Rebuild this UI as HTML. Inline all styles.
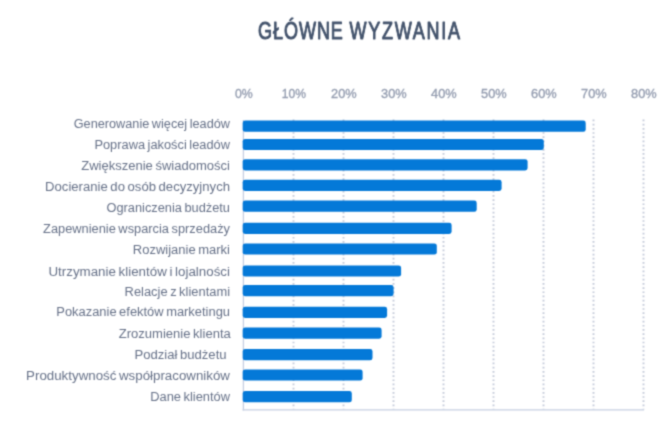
<!DOCTYPE html>
<html lang="pl">
<head>
<meta charset="utf-8">
<title>Główne wyzwania</title>
<style>
html,body{margin:0;padding:0;background:#ffffff;}
body{width:670px;height:427px;overflow:hidden;font-family:"Liberation Sans",sans-serif;}
svg{display:block;filter:url(#soft);}
text{font-family:"Liberation Sans",sans-serif;}
.title{font-size:23.4px;fill:#42526b;stroke:#42526b;stroke-width:0.95px;stroke-linejoin:round;}
.ax{font-size:13.3px;fill:#949db0;stroke:#949db0;stroke-width:0.35px;}
.lab{font-size:12.3px;fill:#667188;word-spacing:-1.0px;}
</style>
</head>
<body>
<svg width="670" height="427" viewBox="0 0 670 427">
<defs><filter id="soft" x="0" y="0" width="670" height="427" filterUnits="userSpaceOnUse" color-interpolation-filters="sRGB"><feConvolveMatrix order="3" kernelMatrix="0.0900 0.3000 0.0900 0.3000 1.0000 0.3000 0.0900 0.3000 0.0900" divisor="2.5600" edgeMode="duplicate" preserveAlpha="true"/></filter></defs>
<rect x="0" y="0" width="670" height="427" fill="#ffffff"/>
<text class="title" transform="translate(258.1,38.9) scale(0.770,1)" x="0" y="0" textLength="110.1" lengthAdjust="spacing">GŁÓWNE</text>
<text class="title" transform="translate(349.5,38.9) scale(0.770,1)" x="0" y="0" textLength="143.6" lengthAdjust="spacing">WYZWANIA</text>
<text class="ax" x="235.0" y="98.1" textLength="17.8" lengthAdjust="spacingAndGlyphs">0%</text>
<text class="ax" x="281.8" y="98.1" textLength="24.2" lengthAdjust="spacingAndGlyphs">10%</text>
<text class="ax" x="331.1" y="98.1" textLength="25.6" lengthAdjust="spacingAndGlyphs">20%</text>
<text class="ax" x="381.1" y="98.1" textLength="25.6" lengthAdjust="spacingAndGlyphs">30%</text>
<text class="ax" x="431.1" y="98.1" textLength="25.6" lengthAdjust="spacingAndGlyphs">40%</text>
<text class="ax" x="481.1" y="98.1" textLength="25.6" lengthAdjust="spacingAndGlyphs">50%</text>
<text class="ax" x="531.1" y="98.1" textLength="25.6" lengthAdjust="spacingAndGlyphs">60%</text>
<text class="ax" x="581.1" y="98.1" textLength="25.6" lengthAdjust="spacingAndGlyphs">70%</text>
<text class="ax" x="631.1" y="98.1" textLength="25.6" lengthAdjust="spacingAndGlyphs">80%</text>
<line x1="293.5" y1="119.6" x2="293.5" y2="409.5" stroke="#c4cad9" stroke-width="1.9" stroke-dasharray="1.7 2.49"/>
<line x1="343.5" y1="119.6" x2="343.5" y2="409.5" stroke="#c4cad9" stroke-width="1.9" stroke-dasharray="1.7 2.49"/>
<line x1="393.5" y1="119.6" x2="393.5" y2="409.5" stroke="#c4cad9" stroke-width="1.9" stroke-dasharray="1.7 2.49"/>
<line x1="443.5" y1="119.6" x2="443.5" y2="409.5" stroke="#c4cad9" stroke-width="1.9" stroke-dasharray="1.7 2.49"/>
<line x1="493.5" y1="119.6" x2="493.5" y2="409.5" stroke="#c4cad9" stroke-width="1.9" stroke-dasharray="1.7 2.49"/>
<line x1="543.5" y1="119.6" x2="543.5" y2="409.5" stroke="#c4cad9" stroke-width="1.9" stroke-dasharray="1.7 2.49"/>
<line x1="593.5" y1="119.6" x2="593.5" y2="409.5" stroke="#c4cad9" stroke-width="1.9" stroke-dasharray="1.7 2.49"/>
<line x1="643.5" y1="119.6" x2="643.5" y2="409.5" stroke="#c4cad9" stroke-width="1.9" stroke-dasharray="1.7 2.49"/>
<line x1="243.4" y1="120" x2="243.4" y2="410.5" stroke="#c6cfe2" stroke-width="1.3"/>
<line x1="242.6" y1="409.9" x2="644" y2="409.9" stroke="#c6cfe2" stroke-width="1.3"/>
<rect x="242.7" y="120.6" width="343.0" height="11.2" rx="2.4" ry="2.4" fill="#0479d8"/>
<rect x="242.7" y="138.9" width="301.1" height="11.2" rx="2.4" ry="2.4" fill="#0479d8"/>
<rect x="242.7" y="159.2" width="284.9" height="11.2" rx="2.4" ry="2.4" fill="#0479d8"/>
<rect x="242.7" y="179.8" width="258.9" height="11.2" rx="2.4" ry="2.4" fill="#0479d8"/>
<rect x="242.7" y="200.6" width="234.0" height="11.2" rx="2.4" ry="2.4" fill="#0479d8"/>
<rect x="242.7" y="222.7" width="208.9" height="11.2" rx="2.4" ry="2.4" fill="#0479d8"/>
<rect x="242.7" y="243.4" width="194.1" height="11.2" rx="2.4" ry="2.4" fill="#0479d8"/>
<rect x="242.7" y="265.4" width="158.4" height="11.2" rx="2.4" ry="2.4" fill="#0479d8"/>
<rect x="242.7" y="285.0" width="150.9" height="11.2" rx="2.4" ry="2.4" fill="#0479d8"/>
<rect x="242.7" y="306.8" width="144.4" height="11.2" rx="2.4" ry="2.4" fill="#0479d8"/>
<rect x="242.7" y="327.5" width="138.9" height="11.2" rx="2.4" ry="2.4" fill="#0479d8"/>
<rect x="242.7" y="349.1" width="129.8" height="11.2" rx="2.4" ry="2.4" fill="#0479d8"/>
<rect x="242.7" y="369.4" width="119.9" height="11.2" rx="2.4" ry="2.4" fill="#0479d8"/>
<rect x="242.7" y="391.1" width="109.1" height="11.2" rx="2.4" ry="2.4" fill="#0479d8"/>
<text class="lab" x="73.7" y="128.1" textLength="156.3" lengthAdjust="spacingAndGlyphs">Generowanie więcej leadów</text>
<text class="lab" x="94.4" y="148.8" textLength="135.6" lengthAdjust="spacingAndGlyphs">Poprawa jakości leadów</text>
<text class="lab" x="81.2" y="169.8" textLength="148.8" lengthAdjust="spacingAndGlyphs">Zwiększenie świadomości</text>
<text class="lab" x="45.1" y="191.3" textLength="184.9" lengthAdjust="spacingAndGlyphs">Docieranie do osób decyzyjnych</text>
<text class="lab" x="106.5" y="212.0" textLength="123.5" lengthAdjust="spacingAndGlyphs">Ograniczenia budżetu</text>
<text class="lab" x="43.1" y="233.2" textLength="186.9" lengthAdjust="spacingAndGlyphs">Zapewnienie wsparcia sprzedaży</text>
<text class="lab" x="132.8" y="254.0" textLength="97.2" lengthAdjust="spacingAndGlyphs">Rozwijanie marki</text>
<text class="lab" x="48.4" y="275.5" textLength="181.6" lengthAdjust="spacingAndGlyphs">Utrzymanie klientów i lojalności</text>
<text class="lab" x="124.6" y="295.8" textLength="105.4" lengthAdjust="spacingAndGlyphs">Relacje z klientami</text>
<text class="lab" x="56.3" y="316.4" textLength="173.7" lengthAdjust="spacingAndGlyphs">Pokazanie efektów marketingu</text>
<text class="lab" x="118.7" y="338.0" textLength="112.1" lengthAdjust="spacingAndGlyphs">Zrozumienie klienta</text>
<text class="lab" x="134.4" y="358.8" textLength="92.2" lengthAdjust="spacingAndGlyphs">Podział budżetu</text>
<text class="lab" x="26.1" y="380.0" textLength="203.9" lengthAdjust="spacingAndGlyphs">Produktywność współpracowników</text>
<text class="lab" x="150.2" y="400.7" textLength="79.8" lengthAdjust="spacingAndGlyphs">Dane klientów</text>
</svg>
</body>
</html>
